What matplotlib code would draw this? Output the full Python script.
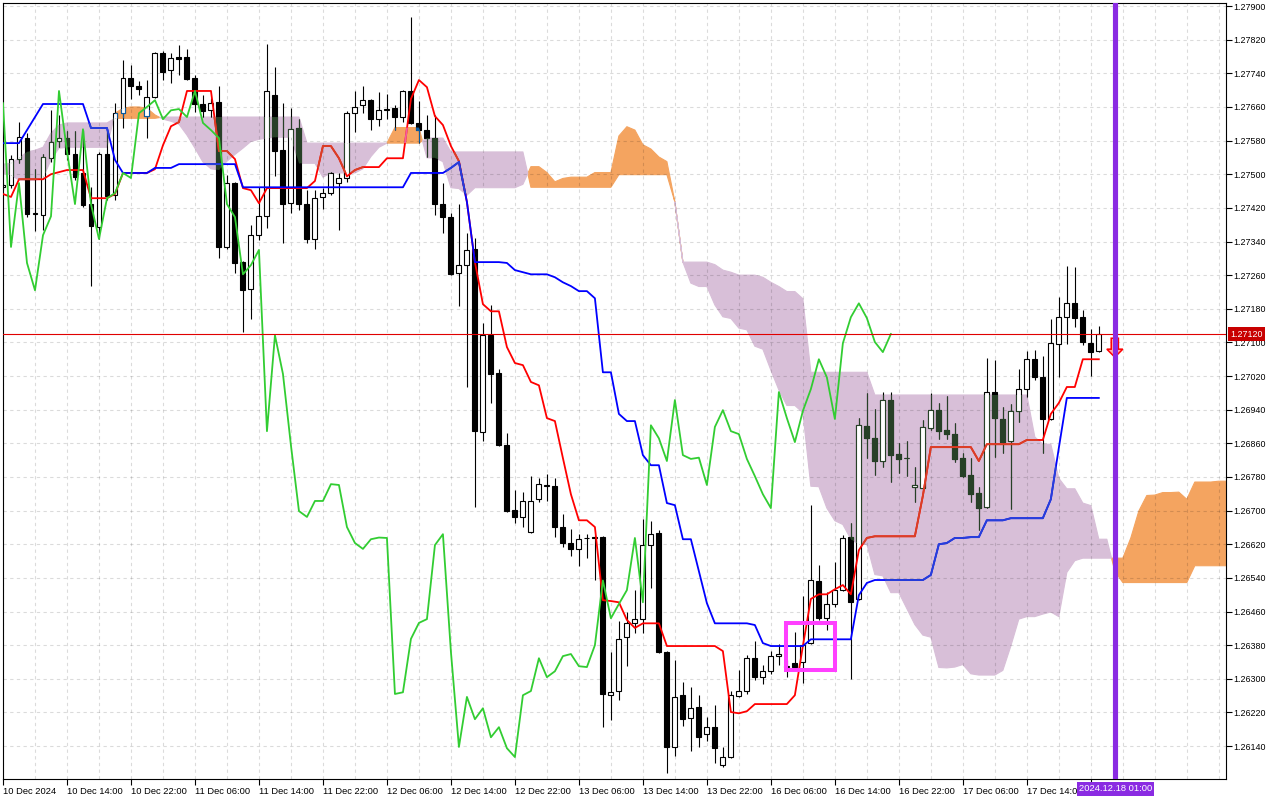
"""GBPUSD H1 with Ichimoku Kinko Hyo, redrawn from an MT4 screenshot."""

import numpy as np
import matplotlib

matplotlib.use("Agg")
import matplotlib.pyplot as plt
from matplotlib import font_manager
from matplotlib.font_manager import FontProperties
from matplotlib.path import Path
from matplotlib.patches import Polygon, Rectangle
from matplotlib.textpath import TextToPath
from matplotlib.transforms import blended_transform_factory

plt.rcParams["font.family"] = ["Liberation Sans", "DejaVu Sans"]

# ------------------------------------------------------------------ data
OPEN = [
    1.27469, 1.27474, 1.27536, 1.27586, 1.27405, 1.27403, 1.27538, 1.27579, 1.27586, 1.27548,
    1.27503, 1.27429, 1.27374, 1.27548, 1.27450, 1.27645, 1.27728, 1.27710, 1.27638, 1.27683,
    1.27788, 1.27748, 1.27778, 1.27778, 1.27728, 1.27667, 1.27652, 1.27671, 1.27327, 1.27479,
    1.27291, 1.27227, 1.27355, 1.27400, 1.27688, 1.27557, 1.27431, 1.27610, 1.27429, 1.27346,
    1.27446, 1.27455, 1.27479, 1.27491, 1.27645, 1.27664, 1.27676, 1.27631, 1.27652, 1.27657,
    1.27636, 1.27698, 1.27622, 1.27605, 1.27586, 1.27429, 1.27398, 1.27265, 1.27284, 1.27322,
    1.26887, 1.27117, 1.27027, 1.26856, 1.26701, 1.26685, 1.26649, 1.26727, 1.26758, 1.26758,
    1.26661, 1.26623, 1.26609, 1.26635, 1.26637, 1.26637, 1.26261, 1.26271, 1.26399, 1.26433,
    1.26442, 1.26618, 1.26646, 1.26364, 1.26138, 1.26261, 1.26207, 1.26233, 1.26168, 1.26185,
    1.26095, 1.26114, 1.26259, 1.26271, 1.26349, 1.26304, 1.26318, 1.26354, 1.26328, 1.26337,
    1.26340, 1.26385, 1.26532, 1.26444, 1.26478, 1.26511, 1.26637, 1.26490, 1.26901, 1.26872,
    1.26818, 1.26963, 1.26834, 1.26825, 1.26756, 1.26754, 1.26896, 1.26939, 1.26892, 1.26882,
    1.26825, 1.26784, 1.26742, 1.26708, 1.26982, 1.26918, 1.26865, 1.26937, 1.26989, 1.27060,
    1.27017, 1.26918, 1.27096, 1.27160, 1.27193, 1.27160, 1.27098, 1.27079,
]
HIGH = [
    1.27479, 1.27545, 1.27624, 1.27598, 1.27512, 1.27548, 1.27652, 1.27641, 1.27603, 1.27603,
    1.27605, 1.27469, 1.27553, 1.27605, 1.27669, 1.27771, 1.27759, 1.27721, 1.27724, 1.27790,
    1.27793, 1.27788, 1.27807, 1.27798, 1.27736, 1.27688, 1.27681, 1.27710, 1.27498, 1.27481,
    1.27293, 1.27379, 1.27469, 1.27809, 1.27755, 1.27669, 1.27657, 1.27631, 1.27462, 1.27462,
    1.27467, 1.27505, 1.27503, 1.27650, 1.27698, 1.27710, 1.27679, 1.27695, 1.27690, 1.27664,
    1.27700, 1.27874, 1.27674, 1.27641, 1.27641, 1.27479, 1.27408, 1.27429, 1.27360, 1.27348,
    1.27146, 1.27189, 1.27037, 1.26884, 1.26749, 1.26744, 1.26782, 1.26777, 1.26787, 1.26777,
    1.26692, 1.26656, 1.26644, 1.26644, 1.26642, 1.26640, 1.26364, 1.26437, 1.26459, 1.26511,
    1.26680, 1.26675, 1.26654, 1.26366, 1.26345, 1.26292, 1.26280, 1.26261, 1.26209, 1.26237,
    1.26138, 1.26271, 1.26321, 1.26356, 1.26390, 1.26333, 1.26366, 1.26383, 1.26345, 1.26411,
    1.26497, 1.26713, 1.26570, 1.26506, 1.26578, 1.26642, 1.26670, 1.26920, 1.26979, 1.26941,
    1.26982, 1.26982, 1.26861, 1.26865, 1.26804, 1.26915, 1.26979, 1.26956, 1.26972, 1.26908,
    1.26836, 1.26825, 1.26756, 1.27063, 1.27058, 1.26946, 1.26953, 1.27037, 1.27079, 1.27082,
    1.27067, 1.27155, 1.27208, 1.27281, 1.27279, 1.27177, 1.27132, 1.27139,
]
LOW = [
    1.27462, 1.27467, 1.27526, 1.27398, 1.27365, 1.27367, 1.27529, 1.27564, 1.27533, 1.27486,
    1.27422, 1.27234, 1.27346, 1.27438, 1.27438, 1.27610, 1.27679, 1.27688, 1.27586, 1.27681,
    1.27724, 1.27717, 1.27736, 1.27724, 1.27648, 1.27636, 1.27636, 1.27300, 1.27322, 1.27265,
    1.27124, 1.27155, 1.27343, 1.27372, 1.27496, 1.27336, 1.27407, 1.27415, 1.27336, 1.27322,
    1.27417, 1.27450, 1.27367, 1.27481, 1.27600, 1.27645, 1.27605, 1.27614, 1.27631, 1.27605,
    1.27624, 1.27619, 1.27574, 1.27541, 1.27403, 1.27360, 1.27260, 1.27186, 1.26994, 1.26708,
    1.26865, 1.26956, 1.26853, 1.26696, 1.26670, 1.26661, 1.26647, 1.26720, 1.26723, 1.26637,
    1.26613, 1.26592, 1.26568, 1.26587, 1.26535, 1.26185, 1.26202, 1.26249, 1.26330, 1.26409,
    1.26409, 1.26516, 1.26361, 1.26076, 1.26116, 1.26188, 1.26128, 1.26138, 1.26152, 1.26100,
    1.26090, 1.26112, 1.26257, 1.26264, 1.26297, 1.26287, 1.26311, 1.26333, 1.26304, 1.26326,
    1.26290, 1.26383, 1.26440, 1.26416, 1.26471, 1.26509, 1.26299, 1.26487, 1.26825, 1.26784,
    1.26804, 1.26768, 1.26789, 1.26782, 1.26720, 1.26751, 1.26892, 1.26870, 1.26870, 1.26815,
    1.26780, 1.26720, 1.26654, 1.26706, 1.26827, 1.26837, 1.26704, 1.26910, 1.26970, 1.27010,
    1.26837, 1.26915, 1.27017, 1.27096, 1.27136, 1.27094, 1.27020, 1.27077,
]
CLOSE = [
    1.27474, 1.27536, 1.27588, 1.27405, 1.27407, 1.27541, 1.27576, 1.27586, 1.27548, 1.27493,
    1.27426, 1.27377, 1.27548, 1.27448, 1.27645, 1.27728, 1.27710, 1.27702, 1.27683, 1.27788,
    1.27743, 1.27776, 1.27774, 1.27726, 1.27667, 1.27650, 1.27669, 1.27327, 1.27479, 1.27289,
    1.27224, 1.27355, 1.27400, 1.27698, 1.27555, 1.27429, 1.27607, 1.27429, 1.27346, 1.27443,
    1.27455, 1.27503, 1.27491, 1.27645, 1.27660, 1.27676, 1.27631, 1.27652, 1.27655, 1.27636,
    1.27698, 1.27622, 1.27605, 1.27586, 1.27429, 1.27398, 1.27262, 1.27284, 1.27320, 1.26889,
    1.27117, 1.27025, 1.26855, 1.26699, 1.26685, 1.26723, 1.26723, 1.26763, 1.26761, 1.26661,
    1.26623, 1.26609, 1.26632, 1.26636, 1.26635, 1.26264, 1.26268, 1.26395, 1.26433, 1.26442,
    1.26618, 1.26644, 1.26364, 1.26138, 1.26257, 1.26204, 1.26230, 1.26161, 1.26185, 1.26135,
    1.26114, 1.26261, 1.26271, 1.26349, 1.26304, 1.26318, 1.26354, 1.26359, 1.26330, 1.26328,
    1.26380, 1.26534, 1.26444, 1.26478, 1.26511, 1.26635, 1.26482, 1.26903, 1.26872, 1.26818,
    1.26963, 1.26832, 1.26823, 1.26826, 1.26761, 1.26899, 1.26939, 1.26889, 1.26882, 1.26823,
    1.26782, 1.26739, 1.26706, 1.26982, 1.26920, 1.26863, 1.26937, 1.26989, 1.27060, 1.27017,
    1.26918, 1.27098, 1.27160, 1.27193, 1.27158, 1.27101, 1.27077, 1.27120,
]
TENKAN = [
    1.27453, 1.27446, 1.27488, 1.27488, 1.27488, 1.27488, 1.27500, 1.27505, 1.27510, 1.27510,
    1.27510, 1.27443, 1.27443, 1.27443, 1.27453, 1.27503, 1.27503, 1.27503, 1.27503, 1.27512,
    1.27569, 1.27614, 1.27624, 1.27698, 1.27698, 1.27698, 1.27698, 1.27555, 1.27555, 1.27536,
    1.27467, 1.27462, 1.27431, 1.27467, 1.27467, 1.27467, 1.27467, 1.27467, 1.27467, 1.27484,
    1.27567, 1.27567, 1.27538, 1.27495, 1.27510, 1.27517, 1.27517, 1.27517, 1.27538, 1.27538,
    1.27538, 1.27679, 1.27724, 1.27707, 1.27638, 1.27617, 1.27567, 1.27531, 1.27434, 1.27291,
    1.27191, 1.27174, 1.27174, 1.27089, 1.27051, 1.27046, 1.27006, 1.26998, 1.26920, 1.26913,
    1.26825, 1.26739, 1.26677, 1.26677, 1.26661, 1.26487, 1.26485, 1.26482, 1.26440, 1.26421,
    1.26432, 1.26432, 1.26432, 1.26378, 1.26378, 1.26378, 1.26378, 1.26378, 1.26378, 1.26378,
    1.26366, 1.26221, 1.26218, 1.26223, 1.26240, 1.26240, 1.26240, 1.26240, 1.26240, 1.26261,
    1.26378, 1.26490, 1.26501, 1.26501, 1.26513, 1.26523, 1.26501, 1.26606, 1.26635, 1.26639,
    1.26639, 1.26639, 1.26639, 1.26639, 1.26639, 1.26735, 1.26851, 1.26851, 1.26851, 1.26851,
    1.26851, 1.26851, 1.26818, 1.26858, 1.26858, 1.26858, 1.26858, 1.26858, 1.26868, 1.26868,
    1.26868, 1.26930, 1.26956, 1.26994, 1.26994, 1.27060, 1.27060, 1.27060,
]
KIJUN = [
    1.27574, 1.27574, 1.27574, 1.27605, 1.27636, 1.27667, 1.27667, 1.27667, 1.27667, 1.27667,
    1.27667, 1.27610, 1.27610, 1.27610, 1.27534, 1.27503, 1.27503, 1.27503, 1.27503, 1.27515,
    1.27515, 1.27515, 1.27524, 1.27524, 1.27524, 1.27524, 1.27524, 1.27524, 1.27524, 1.27524,
    1.27469, 1.27469, 1.27469, 1.27469, 1.27469, 1.27469, 1.27469, 1.27469, 1.27469, 1.27469,
    1.27469, 1.27469, 1.27469, 1.27469, 1.27469, 1.27469, 1.27469, 1.27469, 1.27469, 1.27469,
    1.27469, 1.27503, 1.27503, 1.27503, 1.27503, 1.27503, 1.27515, 1.27529, 1.27434, 1.27291,
    1.27291, 1.27291, 1.27291, 1.27289, 1.27272, 1.27267, 1.27262, 1.27262, 1.27262, 1.27255,
    1.27243, 1.27234, 1.27222, 1.27222, 1.27205, 1.27029, 1.27029, 1.26930, 1.26913, 1.26913,
    1.26832, 1.26808, 1.26808, 1.26718, 1.26713, 1.26632, 1.26632, 1.26556, 1.26480, 1.26432,
    1.26432, 1.26432, 1.26432, 1.26432, 1.26428, 1.26385, 1.26378, 1.26378, 1.26378, 1.26378,
    1.26378, 1.26394, 1.26394, 1.26394, 1.26394, 1.26394, 1.26394, 1.26499, 1.26528, 1.26535,
    1.26535, 1.26535, 1.26535, 1.26535, 1.26535, 1.26535, 1.26547, 1.26620, 1.26623, 1.26635,
    1.26635, 1.26637, 1.26637, 1.26677, 1.26677, 1.26677, 1.26682, 1.26682, 1.26682, 1.26682,
    1.26682, 1.26727, 1.26849, 1.26968, 1.26968, 1.26968, 1.26968, 1.26968,
]
# Senkou spans as drawn (already displaced 26 bars forward, so they run past the last candle)
SPAN_A = [
    1.27503, 1.27498, 1.27486, 1.27486, 1.27486, 1.27491, 1.27534, 1.27562, 1.27564, 1.27564,
    1.27564, 1.27564, 1.27564, 1.27564, 1.27645, 1.27657, 1.27660, 1.27660, 1.27657, 1.27641,
    1.27631, 1.27626, 1.27619, 1.27593, 1.27562, 1.27529, 1.27513, 1.27510, 1.27531, 1.27547,
    1.27562, 1.27578, 1.27583, 1.27586, 1.27588, 1.27588, 1.27588, 1.27526, 1.27526, 1.27526,
    1.27493, 1.27503, 1.27503, 1.27503, 1.27503, 1.27513, 1.27542, 1.27564, 1.27574, 1.27611,
    1.27611, 1.27611, 1.27611, 1.27539, 1.27539, 1.27530, 1.27468, 1.27466, 1.27450, 1.27468,
    1.27468, 1.27468, 1.27468, 1.27468, 1.27468, 1.27476, 1.27518, 1.27518, 1.27504, 1.27482,
    1.27490, 1.27493, 1.27493, 1.27493, 1.27504, 1.27504, 1.27504, 1.27591, 1.27613, 1.27605,
    1.27570, 1.27560, 1.27541, 1.27530, 1.27434, 1.27291, 1.27241, 1.27233, 1.27233, 1.27189,
    1.27161, 1.27157, 1.27134, 1.27130, 1.27091, 1.27084, 1.27034, 1.26987, 1.26950, 1.26950,
    1.26933, 1.26758, 1.26757, 1.26706, 1.26676, 1.26667, 1.26632, 1.26620, 1.26620, 1.26548,
    1.26545, 1.26505, 1.26505, 1.26467, 1.26429, 1.26404, 1.26399, 1.26327, 1.26326, 1.26328,
    1.26334, 1.26312, 1.26309, 1.26309, 1.26309, 1.26320, 1.26378, 1.26442, 1.26448, 1.26448,
    1.26454, 1.26459, 1.26448, 1.26553, 1.26581, 1.26587, 1.26587, 1.26587, 1.26587, 1.26587,
    1.26587, 1.26635, 1.26699, 1.26736, 1.26737, 1.26743, 1.26743, 1.26744, 1.26727, 1.26768,
    1.26768, 1.26768, 1.26770, 1.26770,
]
SPAN_B = [
    1.27524, 1.27526, 1.27538, 1.27553, 1.27557, 1.27564, 1.27598, 1.27617, 1.27622, 1.27622,
    1.27622, 1.27622, 1.27622, 1.27622, 1.27633, 1.27633, 1.27633, 1.27633, 1.27633, 1.27633,
    1.27636, 1.27636, 1.27636, 1.27636, 1.27636, 1.27636, 1.27636, 1.27636, 1.27636, 1.27636,
    1.27636, 1.27636, 1.27636, 1.27636, 1.27636, 1.27636, 1.27636, 1.27636, 1.27574, 1.27574,
    1.27574, 1.27574, 1.27574, 1.27574, 1.27574, 1.27574, 1.27574, 1.27574, 1.27574, 1.27574,
    1.27574, 1.27574, 1.27574, 1.27586, 1.27586, 1.27586, 1.27553, 1.27553, 1.27553, 1.27553,
    1.27553, 1.27553, 1.27553, 1.27553, 1.27553, 1.27553, 1.27469, 1.27469, 1.27469, 1.27469,
    1.27469, 1.27469, 1.27469, 1.27469, 1.27469, 1.27469, 1.27469, 1.27499, 1.27499, 1.27499,
    1.27499, 1.27499, 1.27499, 1.27499, 1.27434, 1.27291, 1.27291, 1.27291, 1.27291, 1.27285,
    1.27272, 1.27267, 1.27260, 1.27260, 1.27260, 1.27255, 1.27243, 1.27233, 1.27221, 1.27221,
    1.27204, 1.27029, 1.27029, 1.27029, 1.27029, 1.27029, 1.27029, 1.27029, 1.27029, 1.26975,
    1.26975, 1.26975, 1.26975, 1.26975, 1.26975, 1.26975, 1.26975, 1.26975, 1.26975, 1.26975,
    1.26975, 1.26975, 1.26975, 1.26975, 1.26975, 1.26975, 1.26975, 1.26975, 1.26975, 1.26875,
    1.26858, 1.26858, 1.26777, 1.26752, 1.26752, 1.26718, 1.26712, 1.26632, 1.26632, 1.26556,
    1.26529, 1.26529, 1.26529, 1.26529, 1.26529, 1.26529, 1.26529, 1.26529, 1.26529, 1.26569,
    1.26569, 1.26569, 1.26569, 1.26569,
]
CHIKOU_SHIFT = 26  # the chikou span is the close drawn 26 bars back

TIME_LABELS = [
    "10 Dec 2024", "10 Dec 14:00", "10 Dec 22:00", "11 Dec 06:00", "11 Dec 14:00",
    "11 Dec 22:00", "12 Dec 06:00", "12 Dec 14:00", "12 Dec 22:00", "13 Dec 06:00",
    "13 Dec 14:00", "13 Dec 22:00", "16 Dec 06:00", "16 Dec 14:00", "16 Dec 22:00",
    "17 Dec 06:00", "17 Dec 14:00", "",
]
BARS_PER_LABEL = 8

BID = 1.27120
MARK_BAR = 139
MARK_LABEL = "2024.12.18 01:00"
BOX_BARS = (97.9, 104.0)
BOX_PRICES = (1.26322, 1.26433)
ARROW_TOP, ARROW_NECK, ARROW_TIP = 1.27110, 1.27084, 1.27065

# ------------------------------------------------------------------ style
THISTLE = "#d8bfd8"
SANDY = "#f4a460"
# MT4 paints the kumo in XOR mode: what lies under it comes out inverted
INK_IN_THISTLE = "#274027"
INK_IN_SANDY = "#0b5b9f"
RED_IN_THISTLE, RED_IN_SANDY = "#d84027", "#f45b9f"
BLUE_IN_THISTLE, BLUE_IN_SANDY = "#2740d8", "#0b5b60"
PURPLE = "#8a2be2"


def scale_font(sample, width_px, largest):
    """MT4's scale font is narrow: take the installed face that fits `sample`
    into `width_px` at the biggest size (condensed cuts win when present)."""
    names = {f.name for f in font_manager.fontManager.ttflist}
    picks = [("Liberation Sans Narrow", "normal"), ("DejaVu Sans", "condensed"),
             ("Noto Sans", "condensed"), ("Liberation Sans", "normal")]
    best = None
    for family, stretch in picks:
        if family not in names:
            continue
        fp = FontProperties(family=family, stretch=stretch, size=10)
        w = TextToPath().get_text_width_height_descent(sample, fp, ismath=False)[0]
        size = min(largest, 10 * width_px * 0.72 / w)
        if best is None or size > best.get_size():
            best = fp.copy()
            best.set_size(size)
    return best or FontProperties(size=6.5)


XFONT = scale_font("10 Dec 14:00", 56, 7.5)
YFONT = scale_font("1.27900", 32, 7.8)

fig = plt.figure(figsize=(12.8, 8), dpi=100)
ax = fig.add_axes([3 / 1280, 21 / 800, 1223 / 1280, 776 / 800])

# ------------------------------------------------------------------ kumo
xs = np.arange(len(SPAN_A))
a, b = np.array(SPAN_A), np.array(SPAN_B)
up = ax.fill_between(xs, a, b, where=a >= b, interpolate=True, color=SANDY, lw=0.8, zorder=0.3)
dn = ax.fill_between(xs, a, b, where=a <= b, interpolate=True, color=THISTLE, lw=0.8, zorder=0.3)
clip_sandy = Path.make_compound_path(*up.get_paths())
clip_thistle = Path.make_compound_path(*dn.get_paths())


def candles(ink, clip=None, z=2.0):
    x = np.arange(len(OPEN))
    o, h, l, c = (np.array(v) for v in (OPEN, HIGH, LOW, CLOSE))
    wicks = ax.vlines(x, l, h, color=ink, lw=0.8, zorder=z)
    faces = ["white" if cc >= oo else ink for oo, cc in zip(o, c)]
    bodies = ax.bar(x, np.abs(c - o), bottom=np.minimum(o, c), width=0.62,
                    color=faces, edgecolor=ink, linewidth=0.8, zorder=z + 0.01)
    if clip is not None:
        wicks.set_clip_path(clip, ax.transData)
        for p in bodies:
            p.set_clip_path(clip, ax.transData)


def line(y, color, z, clip=None, x0=0):
    ln, = ax.plot(np.arange(x0, x0 + len(y)), y, color=color, lw=1.3, zorder=z)
    if clip is not None:
        ln.set_clip_path(clip, ax.transData)


candles("black")
candles(INK_IN_THISTLE, clip_thistle, 2.1)
candles(INK_IN_SANDY, clip_sandy, 2.1)

line(TENKAN, "#ff0000", 3)
line(TENKAN, RED_IN_THISTLE, 3.01, clip_thistle)
line(TENKAN, RED_IN_SANDY, 3.01, clip_sandy)
line(KIJUN, "#0000ff", 3.05)
line(KIJUN, BLUE_IN_THISTLE, 3.06, clip_thistle)
line(KIJUN, BLUE_IN_SANDY, 3.06, clip_sandy)
line(CLOSE[CHIKOU_SHIFT:], "#32cd32", 3.2)

# ------------------------------------------------------------------ marks
ax.axhline(BID, color="#e00000", lw=0.8, zorder=4)
ax.add_patch(Rectangle((BOX_BARS[0], BOX_PRICES[0]), BOX_BARS[1] - BOX_BARS[0],
                       BOX_PRICES[1] - BOX_PRICES[0], fill=False, edgecolor="#ff40ff",
                       lw=2.9, zorder=5))
arrow = [(MARK_BAR - 0.45, ARROW_TOP), (MARK_BAR + 0.45, ARROW_TOP),
         (MARK_BAR + 0.45, ARROW_NECK), (MARK_BAR + 1.0, ARROW_NECK),
         (MARK_BAR, ARROW_TIP), (MARK_BAR - 1.0, ARROW_NECK), (MARK_BAR - 0.45, ARROW_NECK)]
ax.add_patch(Polygon(arrow, closed=True, facecolor="#ffaaaa", edgecolor="#ff0000",
                     lw=1.1, zorder=5))
ax.axvline(MARK_BAR, color=PURPLE, lw=3.7, zorder=6)

# ------------------------------------------------------------------ axes
ax.set_xlim(0, 152.9)
ax.set_ylim(1.260618, 1.279072)

ticks = list(range(0, BARS_PER_LABEL * len(TIME_LABELS), BARS_PER_LABEL))
ax.set_xticks(ticks)
ax.set_xticklabels(TIME_LABELS, ha="left", fontproperties=XFONT)
ax.set_xticks(np.arange(4, 153, 4), minor=True)
yt = np.round(np.arange(1.26140, 1.27901, 0.0008), 5)
ax.set_yticks(yt)
ax.set_yticklabels([f"{v:.5f}" for v in yt], fontproperties=YFONT)
ax.yaxis.tick_right()

ax.set_axisbelow(True)
grid_style = dict(color="black", alpha=0.14, lw=0.8, linestyle=(0, (3, 3)))
ax.grid(True, which="both", axis="x", **grid_style)
ax.grid(True, which="major", axis="y", **grid_style)
ax.tick_params(axis="x", which="major", direction="out", length=4, width=0.8, pad=1.5)
ax.tick_params(axis="x", which="minor", length=0)
ax.tick_params(axis="y", direction="out", length=4, width=0.8, pad=1.5)
for s in ax.spines.values():
    s.set_linewidth(0.8)
    s.set_color("black")

# bid tag on the price scale and the time tag of the vertical marker
ax.text(1.0035, BID, "1.27120", transform=blended_transform_factory(ax.transAxes, ax.transData),
        ha="left", va="center", color="white", fontproperties=YFONT, zorder=10,
        clip_on=False, bbox=dict(boxstyle="square,pad=0.25", fc="#c80000", ec="none"))
tag = blended_transform_factory(ax.transData, ax.transAxes)
ax.add_patch(Rectangle((MARK_BAR - 4.7, -0.0222), 9.6, 0.0183, transform=tag,
                       facecolor=PURPLE, edgecolor="none", zorder=9, clip_on=False))
ax.text(MARK_BAR + 0.1, -0.0128, MARK_LABEL, transform=tag, ha="center", va="center",
        color="white", fontproperties=XFONT, zorder=10, clip_on=False)

fig.savefig("out.png", dpi=100)
